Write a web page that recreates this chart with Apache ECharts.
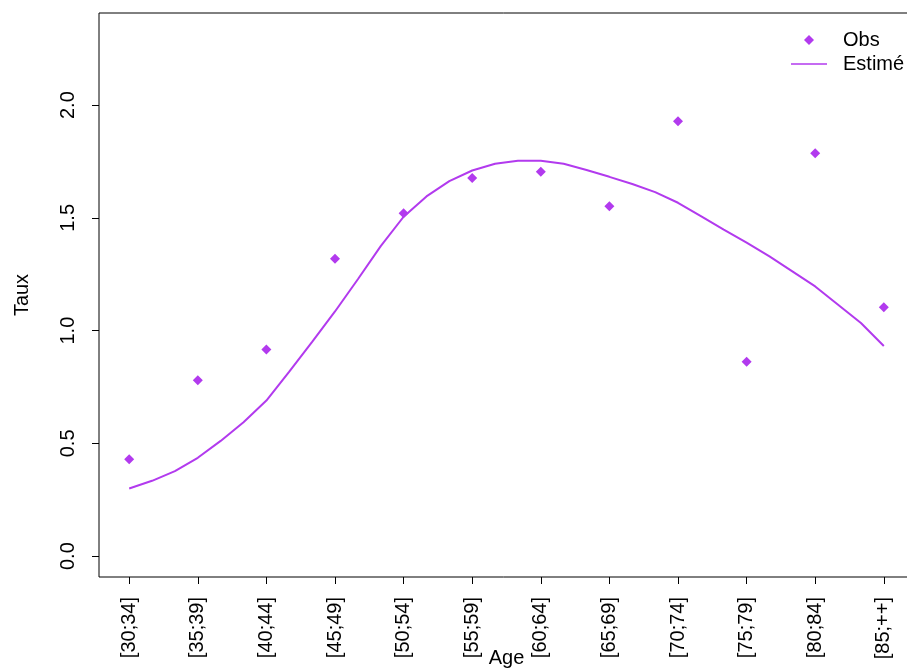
<!DOCTYPE html>
<html>
<head>
<meta charset="utf-8">
<script src="https://cdn.jsdelivr.net/npm/echarts@6/dist/echarts.min.js"></script>
<style>
html,body{margin:0;padding:0;background:#fff;}
#chart{width:907px;height:671px;}
</style>
</head>
<body>
<div id="chart"></div>
<script>
// Age groups (category labels)
var categories = ["[30;34]","[35;39]","[40;44]","[45;49]","[50;54]","[55;59]","[60;64]","[65;69]","[70;74]","[75;79]","[80;84]","[85;++]"];
// Observed rates, one per age group
var obsValues = [0.430, 0.780, 0.916, 1.319, 1.521, 1.677, 1.704, 1.552, 1.928, 0.862, 1.787, 1.104];
// Estimated curve, sampled every third of an age group (positions 1, 1.333, ... 12)
var estValues = [0.300, 0.334, 0.377, 0.436, 0.511, 0.594, 0.690, 0.818, 0.950, 1.085, 1.228, 1.375,
                 1.505, 1.595, 1.663, 1.710, 1.740, 1.753, 1.753, 1.740, 1.712, 1.682, 1.650, 1.614,
                 1.567, 1.508, 1.448, 1.390, 1.329, 1.263, 1.196, 1.115, 1.034, 0.932];
var yTicks = [0, 0.5, 1.0, 1.5, 2.0];
var yTickLabels = ["0.0", "0.5", "1.0", "1.5", "2.0"];

var obsData = obsValues.map(function (v, i) { return [i + 1, v]; });
var estData = estValues.map(function (v, i) { return [1 + i / 3, v]; });
var xTicks = categories.map(function (c, i) { return i + 1; });

var color = '#B23AEE';
var font = 'Liberation Sans, Arial, Helvetica, sans-serif';
var fs = 20;

var chart = echarts.init(document.getElementById('chart'), null, {renderer: 'canvas'});
chart.setOption({
  animation: false,
  backgroundColor: '#fff',
  grid: {left: 99, right: -7, top: 13, bottom: 94, show: true, borderColor: '#000', borderWidth: 1,
         backgroundColor: 'transparent', containLabel: false, outerBoundsMode: 'none'},
  xAxis: {
    type: 'value', min: 0.56, max: 12.44,
    name: 'Age', nameLocation: 'middle', nameGap: 71, nameMoveOverlap: false,
    nameTextStyle: {color: '#000', fontSize: fs, fontFamily: font},
    splitLine: {show: false},
    axisLine: {show: false, onZero: false},
    axisTick: {show: true, length: 7, lineStyle: {color: '#000', width: 1}, customValues: xTicks},
    axisLabel: {
      rotate: 90, margin: 20, color: '#000', fontSize: fs, fontFamily: font,
      customValues: xTicks, hideOverlap: false,
      formatter: function (v) { return categories[Math.round(v) - 1] || ''; }
    }
  },
  yAxis: {
    type: 'value', min: -0.0925, max: 2.4085,
    name: 'Taux', nameLocation: 'middle', nameGap: 67, nameRotate: 90, nameMoveOverlap: false,
    nameTextStyle: {color: '#000', fontSize: fs, fontFamily: font},
    splitLine: {show: false},
    axisLine: {show: false, onZero: false},
    axisTick: {show: true, length: 7, lineStyle: {color: '#000', width: 1}, customValues: yTicks},
    axisLabel: {
      rotate: 90, margin: 21, color: '#000', fontSize: fs, fontFamily: font,
      customValues: yTicks, hideOverlap: false,
      formatter: function (v) {
        var i = yTicks.findIndex(function (t) { return Math.abs(t - v) < 1e-6; });
        return i >= 0 ? yTickLabels[i] : '';
      }
    }
  },
  legend: [
    {
      orient: 'vertical', left: 799, top: 25,
      itemWidth: 10, itemHeight: 10,
      textStyle: {color: '#000', fontSize: fs, fontFamily: font, padding: [0, 0, 0, 24]},
      data: [{name: 'Obs', icon: 'diamond'}]
    },
    {
      orient: 'vertical', left: 786, top: 49,
      itemWidth: 36, itemHeight: 1.5,
      textStyle: {color: '#000', fontSize: fs, fontFamily: font, padding: [0, 0, 0, 11]},
      data: [{name: 'Estimé', icon: 'rect'}]
    }
  ],
  series: [
    {
      name: 'Obs', type: 'scatter', data: obsData,
      symbol: 'diamond', symbolSize: 10,
      itemStyle: {color: color, opacity: 1}
    },
    {
      name: 'Estimé', type: 'line', data: estData,
      showSymbol: false, symbol: 'none', smooth: false,
      lineStyle: {color: color, width: 2},
      itemStyle: {color: color}
    }
  ]
});
</script>
</body>
</html>
